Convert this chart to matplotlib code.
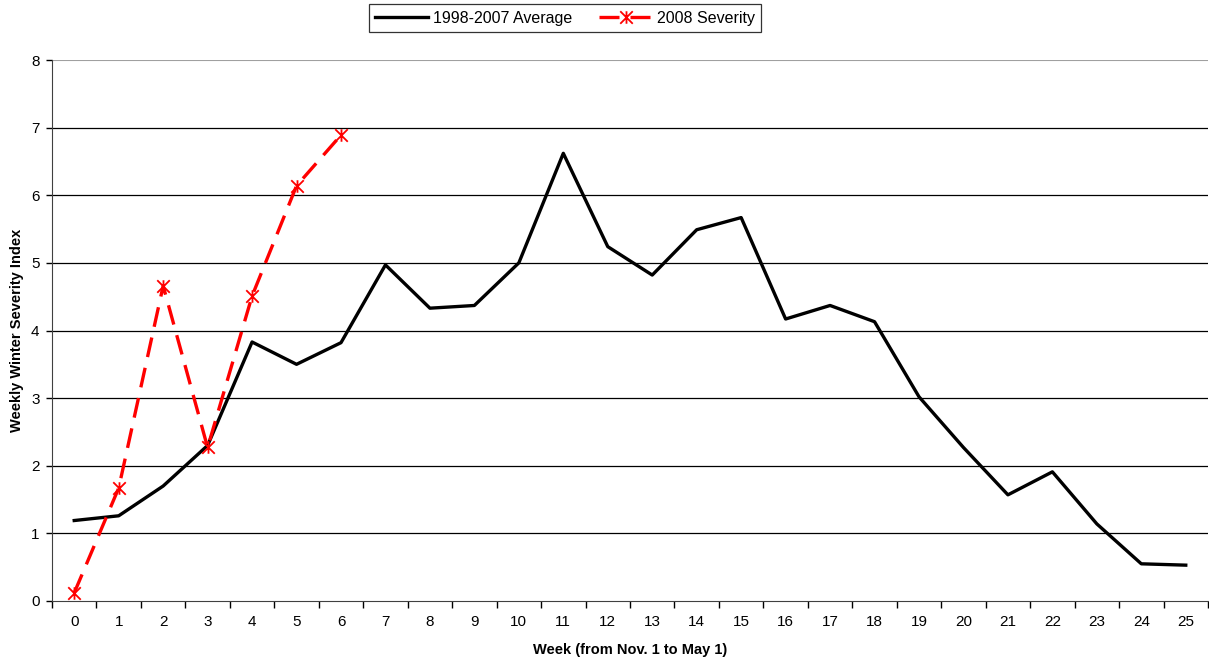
import numpy as np
import matplotlib
matplotlib.use('Agg')
import matplotlib.pyplot as plt
from matplotlib.ticker import FixedLocator
from matplotlib.path import Path

plt.rcParams['font.family'] = ['Liberation Sans', 'DejaVu Sans']

weeks = np.arange(26)
promedio = [1.19, 1.26, 1.70, 2.30, 3.83, 3.50, 3.82, 4.97, 4.33, 4.37,
            5.00, 6.62, 5.24, 4.82, 5.49, 5.67, 4.17, 4.37, 4.13, 3.02,
            2.27, 1.57, 1.91, 1.14, 0.55, 0.53]
semanas_2008 = np.arange(7)
severidad_2008 = [0.12, 1.67, 4.66, 2.27, 4.51, 6.14, 6.89]

# marcador tipo Excel: X con barra vertical
asterisco = Path([(0, -1), (0, 1), (-1, -1), (1, 1), (-1, 1), (1, -1)],
                 [Path.MOVETO, Path.LINETO] * 3)

fig = plt.figure(figsize=(12.09, 6.61), dpi=100)
ax = fig.add_axes([52/1209, 1-601/661, 1156/1209, 541/661])

ax.plot(weeks, promedio, color='black', lw=2.4, label='1998-2007 Average', zorder=3)
ax.plot(semanas_2008, severidad_2008, color='#ff0000', lw=2.4, ls=(0, (6, 3.3)),
        marker=asterisco, ms=9, mew=1.3, label='2008 Severity', zorder=4)

ax.set_xlim(-0.5, 25.5)
ax.set_ylim(0, 8)
ax.set_yticks(range(9))
ax.set_xticks(weeks)
ax.xaxis.set_minor_locator(FixedLocator(np.arange(-0.5, 26, 1)))
ax.tick_params(axis='x', which='major', length=0, pad=10, labelsize=11)
ax.tick_params(axis='x', which='minor', length=5, direction='out', width=1)
ax.tick_params(axis='y', length=4, direction='out', width=1, labelsize=11, pad=5)

for y in range(1, 8):
    ax.axhline(y, color='black', lw=0.9, zorder=1)
ax.axhline(8, color='#a0a0a0', lw=1.5, zorder=1)

for s in ['top', 'right']:
    ax.spines[s].set_visible(False)
ax.spines['left'].set_color('#404040')
ax.spines['bottom'].set_color('#404040')

ax.set_xlabel('Week (from Nov. 1 to May 1)', fontsize=10.5, fontweight='bold', labelpad=10)
ax.set_ylabel('Weekly Winter Severity Index', fontsize=10.5, fontweight='bold', labelpad=5)

leg = fig.legend(loc='upper center', bbox_to_anchor=(565/1209, 1-4/661), ncol=2,
                 fancybox=False, edgecolor='black', fontsize=11.5, handlelength=3.3,
                 columnspacing=1.7, borderpad=0.42, handletextpad=0.3,
                 borderaxespad=0)
leg.get_frame().set_linewidth(0.9)

fig.savefig('out.png', dpi=100)
